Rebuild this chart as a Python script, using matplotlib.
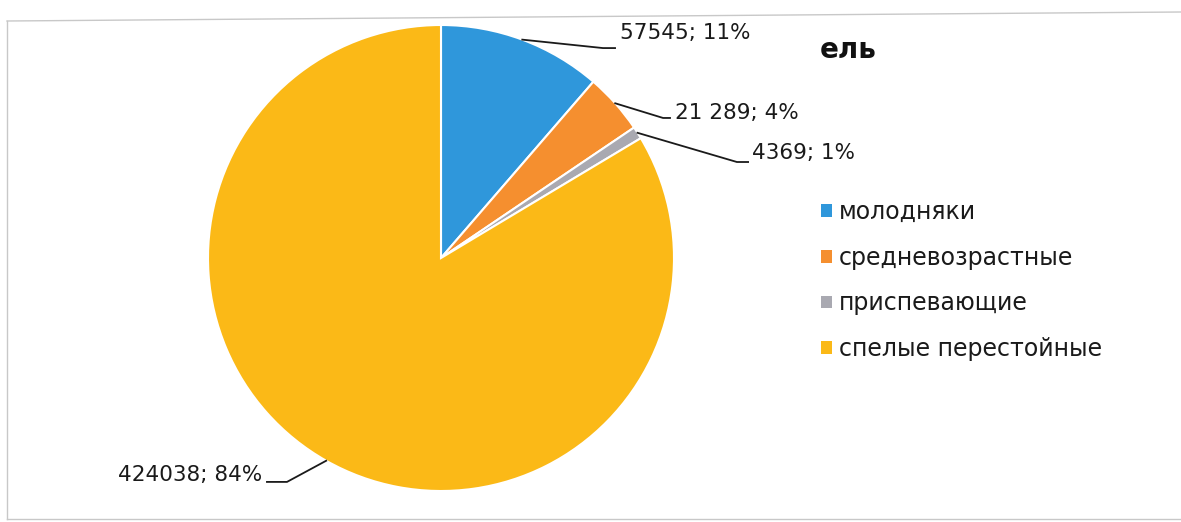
import matplotlib
matplotlib.use('Agg')
import matplotlib.pyplot as plt
from matplotlib.patches import Patch
from matplotlib.lines import Line2D
import numpy as np

# Ель: запас по группам возраста
categories = ['молодняки', 'средневозрастные', 'приспевающие', 'спелые перестойные']
values = [57545, 21289, 4369, 424038]
value_labels = ['57545', '21 289', '4369', '424038']
colors = ['#2f97db', '#f58f2f', '#a9a9b1', '#fbb917']
title = 'ель'

plt.rcParams['font.family'] = ['DejaVu Sans']

W, H = 1181, 522
fig = plt.figure(figsize=(W / 100, H / 100), dpi=100)
fig.patch.set_facecolor('white')

# pie axes: centre (441, 258) px, radius 233 px
cx, cy, R = 441, 258, 233
ax = fig.add_axes([(cx - R) / W, (H - cy - R) / H, 2 * R / W, 2 * R / H])

wedges, _ = ax.pie(values, colors=colors, startangle=90, counterclock=False,
                   radius=1, wedgeprops=dict(edgecolor='white', linewidth=1.5))
# pie() pads the limits to 1.25, pull them back so the disc fills the axes
ax.set_xlim(-1, 1)
ax.set_ylim(-1, 1)
ax.set_aspect('equal')
ax.axis('off')

# label layout: (elbow, line end, text anchor, ha) in radius units
label_layout = [
    ((0.695, 0.901), (0.747, 0.901), (0.768, 0.966), 'left'),
    ((0.953, 0.601), (0.983, 0.601), (1.004, 0.622), 'left'),
    ((1.270, 0.412), (1.318, 0.412), (1.335, 0.451), 'left'),
    ((-0.661, -0.961), (-0.747, -0.961), (-0.768, -0.931), 'right'),
]

total = sum(values)
for w, val, txt, (elbow, end, pos, ha) in zip(wedges, values, value_labels, label_layout):
    mid = np.deg2rad((w.theta1 + w.theta2) / 2)
    px, py = np.cos(mid), np.sin(mid)
    ax.plot([px, elbow[0], end[0]], [py, elbow[1], end[1]], color='#1a1a1a',
            linewidth=1.3, clip_on=False)
    pct = round(val / total * 100)
    ax.text(pos[0], pos[1], f'{txt}; {pct}%', ha=ha, va='center', fontsize=15.5,
            color='#1a1a1a', clip_on=False)

# title
fig.text(820 / W, 1 - 50 / H, title, ha='left', va='center', fontsize=20,
         fontweight='bold', color='#111111')

# legend
handles = [Patch(facecolor=c, edgecolor='none') for c in colors]
leg = fig.legend(handles, categories, loc='upper left',
                 bbox_to_anchor=(821 / W, 1 - 200 / H), frameon=False,
                 fontsize=17, handlelength=0.45, handleheight=0.45,
                 handletextpad=0.3, labelspacing=0.92, borderpad=0,
                 borderaxespad=0)
for t in leg.get_texts():
    t.set_color('#1a1a1a')

# outer frame lines
frame_color = '#c8c8c8'
fig.add_artist(Line2D([7 / W, 1], [1 - 21 / H, 1 - 12 / H], color=frame_color,
                      linewidth=1.0, transform=fig.transFigure))
fig.add_artist(Line2D([7 / W, 7 / W], [1 - 21 / H, 1 - 519 / H], color=frame_color,
                      linewidth=1.0, transform=fig.transFigure))
fig.add_artist(Line2D([7 / W, 1], [1 - 519 / H, 1 - 519 / H], color=frame_color,
                      linewidth=1.0, transform=fig.transFigure))

fig.savefig('out.png', dpi=100, facecolor='white')
